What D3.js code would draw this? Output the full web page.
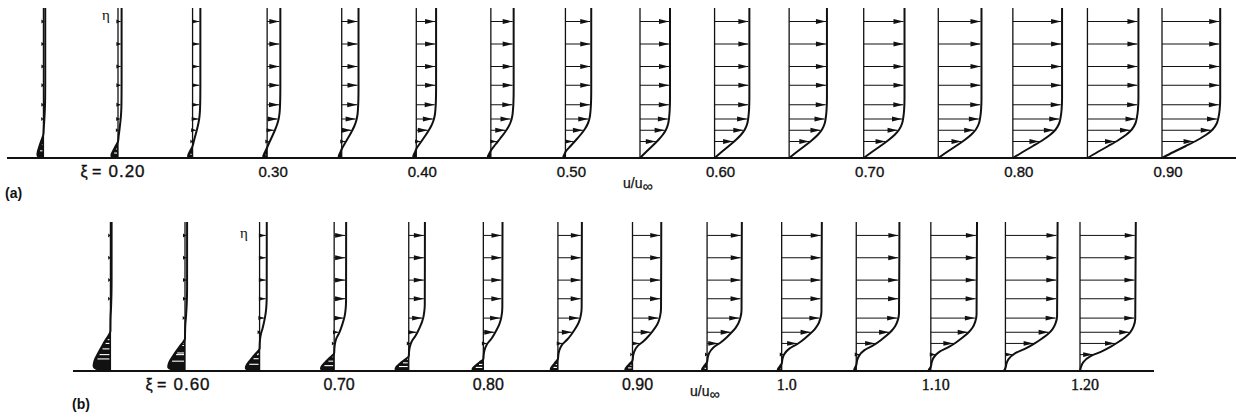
<!DOCTYPE html>
<html>
<head>
<meta charset="utf-8">
<script src="https://cdn.jsdelivr.net/npm/d3@7"></script>
<style>
  html, body { margin: 0; padding: 0; background: #fff; }
  text { fill: #111; }
</style>
</head>
<body>
<div id="chart"></div>
<script>
// velocity profiles u/u_inf vs eta at stations xi, two cases (a) and (b)

// panel (a)
const xiA  = [0.15, 0.20, 0.25, 0.30, 0.35, 0.40, 0.45, 0.50, 0.55, 0.60, 0.65, 0.70, 0.75, 0.80, 0.85, 0.90];
const ueA  = [0.03, 0.06, 0.13, 0.22, 0.28, 0.33, 0.38, 0.43, 0.50, 0.58, 0.63, 0.68, 0.72, 0.82, 0.85, 0.97];
const revA = [-0.10, -0.11, -0.075, -0.065, -0.05, -0.05, -0.05, -0.035, 0, 0, 0, 0, 0, 0, 0, 0];
const hbA  = [0.16, 0.11, 0.08, 0.07, 0.06, 0.06, 0.05, 0.04, 0, 0, 0, 0, 0, 0, 0, 0];
const labelXiA = [0.20, 0.30, 0.40, 0.50, 0.60, 0.70, 0.80, 0.90];
const labelsA  = ["0.20", "0.30", "0.40", "0.50", "0.60", "0.70", "0.80", "0.90"];

// panel (b)
const xiB  = [0.55, 0.60, 0.65, 0.70, 0.75, 0.80, 0.85, 0.90, 0.95, 1.00, 1.05, 1.10, 1.15, 1.20];
const ueB  = [0.02, 0.035, 0.12, 0.20, 0.27, 0.32, 0.40, 0.48, 0.58, 0.67, 0.72, 0.77, 0.87, 0.93];
const revB = [-0.28, -0.28, -0.23, -0.22, -0.22, -0.18, -0.12, -0.12, -0.085, -0.065, -0.035, -0.035, -0.02, 0];
const hbB  = [0.27, 0.22, 0.15, 0.12, 0.10, 0.08, 0.08, 0.07, 0.06, 0.05, 0.04, 0.03, 0.02, 0];
const labelXiB = [0.60, 0.70, 0.80, 0.90, 1.00, 1.10, 1.20];
const labelsB  = ["0.60", "0.70", "0.80", "0.90", "1.0", "1.10", "1.20"];

// eta levels where arrows are drawn
const arrowEta = [0.91, 0.76, 0.61, 0.485, 0.355, 0.26, 0.185, 0.11];
// normalised profile shapes (above the reverse-flow region)
const shapeAEta = [0, 0.04, 0.08, 0.12, 0.155, 0.19, 0.23, 0.27, 0.32, 0.40, 1];
const shapeAF   = [0, 0.2, 0.41, 0.61, 0.76, 0.87, 0.94, 0.97, 0.99, 1.0, 1.0];
const shapeBEta = [0, 0.03, 0.06, 0.10, 0.133, 0.165, 0.193, 0.23, 0.26, 0.30, 0.35, 1];
const shapeBF   = [0, 0.02, 0.06, 0.19, 0.40, 0.56, 0.68, 0.82, 0.90, 0.96, 0.99, 1.0];
// reverse-flow bubble shape, t = eta / bubble height
const bubbleT = [0, 0.04, 0.12, 0.25, 0.48, 0.74, 1];
const bubbleF = [0, 0.75, 1.0, 0.95, 0.68, 0.33, 0];

const W = 1236, H = 420;
const svg = d3.select("#chart").append("svg")
    .attr("width", W).attr("height", H)
    .style("background", "#fff");

const U = d3.scaleLinear().domain([0, 1]).range([0, 60]);   // u/u_inf -> px
const bubble = d3.scaleLinear().domain(bubbleT).range(bubbleF).clamp(true);
const SANS = "'Liberation Sans', Arial, sans-serif";

function drawPanel(cfg) {
    const x = d3.scaleLinear().domain(cfg.xDom).range(cfg.xRange);
    const y = d3.scaleLinear().domain([0, 1]).range([cfg.base, cfg.top]);
    const shape = d3.scaleLinear().domain(cfg.shapeEta).range(cfg.shapeF).clamp(true);
    const g = svg.append("g");

    const profiles = cfg.xi.map((xi, i) => ({ xi: xi, ue: cfg.ue[i], rev: cfg.rev[i], hb: cfg.hb[i] }));

    function uAt(eta, p) {
        if (p.hb > 0 && eta < p.hb) return p.rev * bubble(eta / p.hb);
        return p.ue * shape(eta - p.hb);
    }

    // wall
    g.append("line")
        .attr("x1", cfg.wall[0]).attr("x2", cfg.wall[1])
        .attr("y1", cfg.base).attr("y2", cfg.base)
        .attr("stroke", "#111").attr("stroke-width", 2);

    const line = d3.line()
        .x(d => d[0]).y(d => d[1])
        .curve(d3.curveMonotoneY);

    profiles.forEach(p => {
        const x0 = x(p.xi);

        // reverse-flow region, filled dark
        if (p.hb > 0 && p.rev < 0) {
            const bp = bubbleT.map(t => [x0 + U(uAt(t * p.hb, p)), y(t * p.hb)]);
            g.append("path")
                .attr("d", d3.area().y(d => d[1]).x0(() => x0).x1(d => d[0]).curve(d3.curveMonotoneY)(bp))
                .attr("fill", "#111");
        }

        // u = 0 axis
        g.append("line")
            .attr("x1", x0).attr("x2", x0)
            .attr("y1", y(0)).attr("y2", y(1))
            .attr("stroke", "#111").attr("stroke-width", 1.3);

        // profile curve
        let etas = [];
        if (p.hb > 0) bubbleT.forEach(t => etas.push(t * p.hb));
        cfg.shapeEta.forEach(e => etas.push(p.hb + e));
        etas = Array.from(new Set(etas.map(e => Math.min(1, e)))).sort((a, b) => a - b);
        const pts = etas.map(e => [x0 + U(uAt(e, p)), y(e)]);
        g.append("path")
            .attr("d", line(pts))
            .attr("fill", "none")
            .attr("stroke", "#111").attr("stroke-width", 2)
            .attr("stroke-linejoin", "round");

        // arrows
        let levels = arrowEta.slice();
        if (p.hb >= 0.04) [0.3, 0.55, 0.78].forEach(t => levels.push(t * p.hb));
        levels.forEach(e => {
            const len = U(uAt(e, p));
            const yy = y(e);
            if (len < 0) {
                // white streaks inside the dark reverse-flow region
                if (len > -3) return;
                g.append("line")
                    .attr("x1", x0 - 1).attr("x2", x0 + len + 2)
                    .attr("y1", yy).attr("y2", yy)
                    .attr("stroke", "#fff").attr("stroke-width", 1.1);
                return;
            }
            if (len < 0.8) return;
            const tip = x0 + len - 1;
            const hl = Math.min(10, len * 0.75 + 1.5);
            const hw = len < 10 ? 2 : 2.4;
            g.append("line")
                .attr("x1", x0).attr("x2", tip)
                .attr("y1", yy).attr("y2", yy)
                .attr("stroke", "#111").attr("stroke-width", 1);
            g.append("path")
                .attr("d", `M${tip},${yy} L${tip - hl},${yy - hw} L${tip - hl},${yy + hw} Z`)
                .attr("fill", "#111");
        });
    });

    // station labels
    cfg.labelXi.forEach((xi, i) => {
        const first = i === 0;
        const t = g.append("text")
            .attr("x", x(xi) + (first ? cfg.firstDx : cfg.labelDx))
            .attr("y", cfg.labelY)
            .attr("text-anchor", "middle")
            .attr("fill", "#111")
            .style("font-family", cfg.labels[i].startsWith("1") ? "'Liberation Serif', serif" : SANS)
            .style("font-size", (first ? 17 : cfg.labelSize) + "px")
            .style("letter-spacing", first ? "1px" : "0px")
            .style("stroke", "#111").style("stroke-width", 0.35)
            .text(cfg.labels[i]);
        if (first) {
            const w = t.node().getComputedTextLength();
            g.append("text")
                .attr("x", x(xi) + cfg.firstDx - w / 2 - 7)
                .attr("y", cfg.labelY)
                .attr("text-anchor", "end")
                .attr("fill", "#111")
                .style("font-family", SANS)
                .style("font-size", "16px")
                .style("stroke", "#111").style("stroke-width", 0.35)
                .text("ξ  =");
        }
    });

    // eta label
    g.append("text")
        .attr("x", cfg.etaPos[0]).attr("y", cfg.etaPos[1])
        .attr("text-anchor", "middle")
        .attr("fill", "#111")
        .style("font-family", "'Liberation Serif', serif")
        .style("font-size", "15px")
        .text("η");

    // u/u_inf label
    const ul = g.append("text")
        .attr("x", cfg.uPos[0]).attr("y", cfg.uPos[1])
        .attr("fill", "#111")
        .style("font-family", SANS)
        .style("font-size", "14px")
        .style("stroke", "#111").style("stroke-width", 0.25);
    ul.append("tspan").text("u/u");
    ul.append("tspan").attr("dy", 3).style("font-size", "14px").text("∞");

    // panel tag
    g.append("text")
        .attr("x", cfg.tagPos[0]).attr("y", cfg.tagPos[1])
        .attr("fill", "#111")
        .style("font-family", SANS)
        .style("font-weight", "bold")
        .style("font-size", "14px")
        .text(cfg.tag);
}

drawPanel({
    xi: xiA, ue: ueA, rev: revA, hb: hbA,
    xDom: [0.2, 0.9], xRange: [118, 1162],
    base: 158, top: 8, wall: [7, 1236],
    shapeEta: shapeAEta, shapeF: shapeAF,
    labelXi: labelXiA, labels: labelsA, labelDx: 6, firstDx: 9, labelY: 177, labelSize: 15,
    etaPos: [106, 20], uPos: [623, 188], tagPos: [5, 198], tag: "(a)"
});

drawPanel({
    xi: xiB, ue: ueB, rev: revB, hb: hbB,
    xDom: [0.6, 1.2], xRange: [185, 1080],
    base: 371, top: 222, wall: [73, 1154],
    shapeEta: shapeBEta, shapeF: shapeBF,
    labelXi: labelXiB, labels: labelsB, labelDx: 5, firstDx: 7, labelY: 390, labelSize: 16,
    etaPos: [244, 238], uPos: [690, 396], tagPos: [72, 409], tag: "(b)"
});
</script>
</body>
</html>
